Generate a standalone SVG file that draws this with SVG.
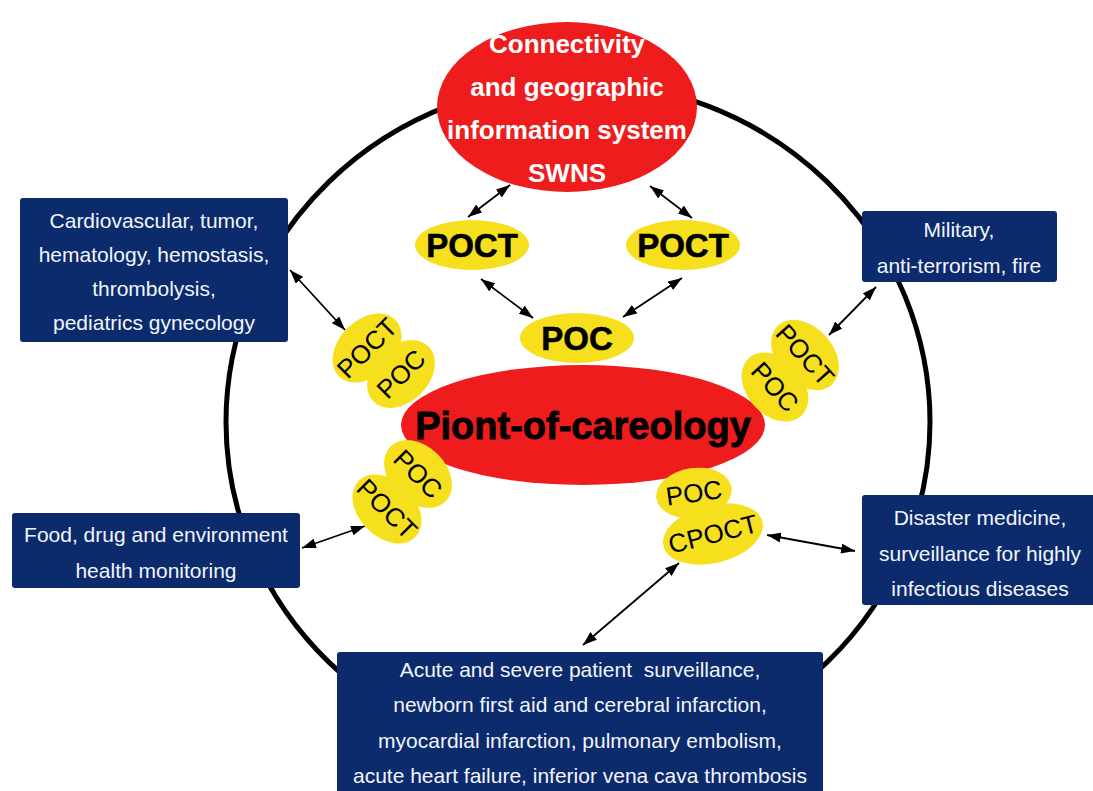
<svg xmlns="http://www.w3.org/2000/svg" width="1093" height="791" viewBox="0 0 1093 791">
<defs>
<style>
.red{fill:#ee1c1c}
.yel{fill:#f6e01e}
.box{fill:#0c2b6c}
.bt{font-family:"Liberation Sans",Arial,sans-serif;font-size:21px;fill:#f2f5fb;text-anchor:middle}
.wt{font-family:"Liberation Sans",Arial,sans-serif;font-size:26px;font-weight:bold;fill:#ffffff;text-anchor:middle}
.yt{font-family:"Liberation Sans",Arial,sans-serif;font-size:33px;font-weight:bold;fill:#000000;text-anchor:middle;stroke:#000000;stroke-width:0.6}
.st{font-family:"Liberation Sans",Arial,sans-serif;font-size:26px;fill:#000000;text-anchor:middle}
.conn line{stroke:#000000;stroke-width:1.8;marker-start:url(#ah);marker-end:url(#ah)}
</style>
<marker id="ah" viewBox="0 0 14 10" refX="14" refY="5" markerWidth="14" markerHeight="10" markerUnits="userSpaceOnUse" orient="auto-start-reverse">
<path d="M0,0 L14,5 L0,10 z" fill="#000000"/>
</marker>
</defs>
<rect width="1093" height="791" fill="#ffffff"/>
<ellipse id="ring" cx="578" cy="422" rx="352" ry="340" fill="none" stroke="#000000" stroke-width="5"/>

<g class="conn" id="connectors">
<line x1="468" y1="217" x2="510" y2="185"/>
<line x1="650" y1="186" x2="692" y2="218"/>
<line x1="481" y1="279" x2="533" y2="318"/>
<line x1="682" y1="278" x2="623" y2="317"/>
<line x1="290" y1="270" x2="345" y2="330"/>
<line x1="302" y1="548" x2="365" y2="526"/>
<line x1="876" y1="287" x2="829" y2="335"/>
<line x1="767" y1="535" x2="855" y2="551"/>
<line x1="583" y1="645" x2="679" y2="563"/>
</g>

<g id="gis">
<ellipse class="red" cx="567" cy="107" rx="130" ry="85"/>
<text class="wt" x="567" y="53">Connectivity</text>
<text class="wt" x="567" y="96">and geographic</text>
<text class="wt" x="567" y="139">information system</text>
<text class="wt" x="567" y="182">SWNS</text>
</g>

<g id="poct-left">
<ellipse class="yel" cx="472" cy="245" rx="57" ry="25"/>
<text class="yt" x="472" y="257">POCT</text>
</g>
<g id="poct-right">
<ellipse class="yel" cx="683" cy="245" rx="57" ry="25"/>
<text class="yt" x="683" y="257">POCT</text>
</g>
<g id="poc-top">
<ellipse class="yel" cx="577" cy="338" rx="57" ry="25"/>
<text class="yt" x="577" y="350">POC</text>
</g>

<g id="careology">
<ellipse class="red" cx="583" cy="425" rx="182" ry="60"/>
<text x="583" y="439" font-family="'Liberation Sans',Arial,sans-serif" font-size="38" font-weight="bold" fill="#000000" stroke="#000000" stroke-width="0.8" text-anchor="middle">Piont-of-careology</text>
</g>

<g id="pair-upper-left">
<ellipse class="yel" cx="367" cy="348" rx="40" ry="28" transform="rotate(-45 367 348)"/>
<ellipse class="yel" cx="401" cy="374" rx="39" ry="28" transform="rotate(-45 401 374)"/>
<text class="st" x="367" y="357" transform="rotate(-45 367 348)">POCT</text>
<text class="st" x="401" y="383" transform="rotate(-45 401 374)">POC</text>
</g>

<g id="pair-lower-left">
<ellipse class="yel" cx="418" cy="474" rx="39" ry="28" transform="rotate(45 418 474)"/>
<ellipse class="yel" cx="387" cy="509" rx="40" ry="28" transform="rotate(45 387 509)"/>
<text class="st" x="418" y="483" transform="rotate(45 418 474)">POC</text>
<text class="st" x="387" y="518" transform="rotate(45 387 509)">POCT</text>
</g>

<g id="pair-right">
<ellipse class="yel" cx="805" cy="355" rx="40" ry="28" transform="rotate(48 805 355)"/>
<ellipse class="yel" cx="775" cy="387" rx="39" ry="28" transform="rotate(48 775 387)"/>
<text class="st" x="805" y="364" transform="rotate(48 805 355)">POCT</text>
<text class="st" x="775" y="396" transform="rotate(48 775 387)">POC</text>
</g>

<g id="pair-bottom">
<ellipse class="yel" cx="694" cy="493" rx="38" ry="25" transform="rotate(-8 694 493)"/>
<ellipse class="yel" cx="713" cy="534" rx="51" ry="29" transform="rotate(-14 713 534)"/>
<text class="st" x="694" y="502" transform="rotate(-8 694 493)">POC</text>
<text class="st" x="713" y="543" transform="rotate(-14 713 534)">CPOCT</text>
</g>

<g id="box-cardio">
<rect class="box" x="20" y="198" width="268" height="144" rx="3"/>
<text class="bt" x="154" y="228">Cardiovascular, tumor,</text>
<text class="bt" x="154" y="262">hematology, hemostasis,</text>
<text class="bt" x="154" y="296">thrombolysis,</text>
<text class="bt" x="154" y="330">pediatrics gynecology</text>
</g>

<g id="box-military">
<rect class="box" x="862" y="211" width="195" height="71" rx="3"/>
<text class="bt" x="959" y="237">Military,</text>
<text class="bt" x="959" y="273">anti-terrorism, fire</text>
</g>

<g id="box-food">
<rect class="box" x="12" y="513" width="288" height="75" rx="3"/>
<text class="bt" x="156" y="542">Food, drug and environment</text>
<text class="bt" x="156" y="578">health monitoring</text>
</g>

<g id="box-disaster">
<rect class="box" x="862" y="495" width="240" height="110" rx="3"/>
<text class="bt" x="980" y="525">Disaster medicine,</text>
<text class="bt" x="980" y="561">surveillance for highly</text>
<text class="bt" x="980" y="596">infectious diseases</text>
</g>

<g id="box-acute">
<rect class="box" x="337" y="652" width="486" height="150" rx="3"/>
<text class="bt" x="580" y="677" xml:space="preserve">Acute and severe patient  surveillance,</text>
<text class="bt" x="580" y="712">newborn first aid and cerebral infarction,</text>
<text class="bt" x="580" y="748">myocardial infarction, pulmonary embolism,</text>
<text class="bt" x="580" y="783">acute heart failure, inferior vena cava thrombosis</text>
</g>
</svg>
